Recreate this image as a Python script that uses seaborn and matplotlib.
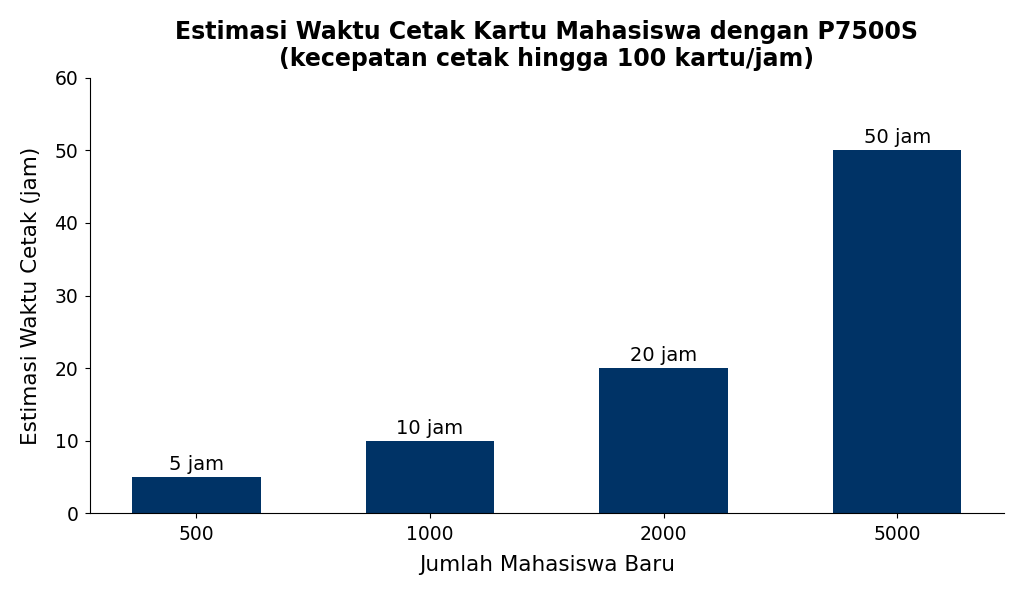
import matplotlib
matplotlib.use("Agg")
import matplotlib.pyplot as plt
import seaborn as sns
import pandas as pd

# data
students = ["500", "1000", "2000", "5000"]
hours = [5, 10, 20, 50]
bar_labels = ["5 jam", "10 jam", "20 jam", "50 jam"]

df = pd.DataFrame({"students": students, "hours": hours})

plt.rcParams["font.family"] = ["DejaVu Sans"]

fig, ax = plt.subplots(figsize=(10.24, 5.97), dpi=100)
sns.barplot(data=df, x="students", y="hours", color="#003366",
            saturation=1, width=0.55, linewidth=0, ax=ax)

for container in ax.containers:
    ax.bar_label(container, labels=bar_labels, padding=2, fontsize=14)

ax.set_title("Estimasi Waktu Cetak Kartu Mahasiswa dengan P7500S\n"
             "(kecepatan cetak hingga 100 kartu/jam)",
             fontsize=17, fontweight="bold", pad=8)
ax.set_xlabel("Jumlah Mahasiswa Baru", fontsize=15.5, labelpad=8)
ax.set_ylabel("Estimasi Waktu Cetak (jam)", fontsize=15.5, labelpad=10)
ax.set_ylim(0, 60)
ax.set_xlim(-0.455, 3.455)
ax.tick_params(labelsize=13.5, pad=5)
sns.despine(ax=ax)

fig.subplots_adjust(left=0.088, right=0.98, top=0.87, bottom=0.14)
fig.savefig("out.png", dpi=100)
